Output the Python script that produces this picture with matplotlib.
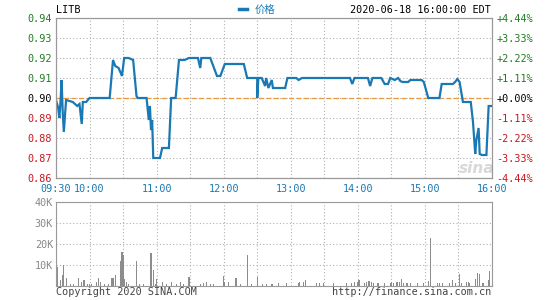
import matplotlib
matplotlib.use("Agg")
import matplotlib.pyplot as plt

# price line, minutes after 09:30
price_min = [0, 2, 3, 4, 5, 6, 7, 9, 15, 19, 21, 23, 24, 27, 30, 48, 51, 53, 56, 59,
             61, 65, 69, 72, 73, 81, 83, 84, 85, 86, 87, 93, 95, 101, 103, 107, 110, 115,
             119, 127, 129, 130, 138, 144, 147, 151, 168, 171, 180, 180, 181, 184, 187,
             188, 190, 193, 194, 205, 207, 215, 217, 220, 263, 265, 267, 279, 281, 283,
             291, 294, 297, 299, 303, 306, 308, 310, 315, 317, 327, 329, 333, 343, 345,
             352, 355, 357, 359, 361, 364, 371, 373, 375, 376, 378, 379, 381, 385, 387, 390]
price = [0.899, 0.895, 0.890, 0.898, 0.909, 0.893, 0.883, 0.899, 0.898, 0.896, 0.897,
         0.887, 0.898, 0.898, 0.900, 0.900, 0.919, 0.916, 0.915, 0.911, 0.920, 0.920,
         0.919, 0.901, 0.900, 0.900, 0.889, 0.896, 0.884, 0.889, 0.870, 0.870, 0.875,
         0.875, 0.900, 0.900, 0.919, 0.919, 0.920, 0.920, 0.915, 0.920, 0.920, 0.911,
         0.911, 0.917, 0.917, 0.910, 0.910, 0.900, 0.910, 0.910, 0.906, 0.910, 0.905,
         0.909, 0.905, 0.905, 0.910, 0.910, 0.909, 0.910, 0.910, 0.907, 0.910, 0.910,
         0.906, 0.910, 0.910, 0.907, 0.907, 0.910, 0.909, 0.910, 0.9085, 0.908, 0.908,
         0.909, 0.909, 0.908, 0.900, 0.900, 0.907, 0.907, 0.907, 0.908, 0.9095, 0.908,
         0.898, 0.898, 0.888, 0.872, 0.879, 0.885, 0.872, 0.8715, 0.8715, 0.896, 0.896]

# volume bars
vol_min = [1, 4, 6, 7, 9, 13, 16, 20, 23, 25, 28, 30, 32, 36, 38, 40, 43, 47, 50, 51,
           53, 58, 59, 60, 61, 63, 65, 72, 75, 78, 85, 87, 89, 90, 95, 99, 103, 108, 111,
           114, 119, 129, 132, 135, 138, 141, 150, 151, 154, 161, 165, 171, 175, 180, 185,
           188, 193, 194, 199, 206, 217, 218, 221, 223, 233, 236, 239, 248, 260, 264, 267,
           270, 271, 276, 278, 280, 282, 284, 288, 294, 299, 300, 302, 305, 307, 309, 311,
           314, 317, 323, 329, 333, 335, 341, 343, 346, 352, 355, 357, 361, 363, 367, 369,
           370, 375, 377, 379, 382, 387, 388]
vol_k = [9.0, 2.7, 5.0, 10.0, 3.8, 1.0, 1.0, 3.8, 2.0, 2.7, 1.0, 1.0, 1.0, 2.0, 3.8, 2.0,
         1.0, 1.0, 3.8, 3.8, 5.0, 12.0, 16.0, 14.6, 3.0, 2.0, 1.0, 12.0, 1.0, 1.0, 15.7,
         7.5, 1.0, 3.2, 2.0, 1.0, 2.0, 1.0, 2.0, 1.0, 4.3, 1.0, 1.4, 2.0, 1.0, 1.0, 4.6,
         2.0, 2.0, 3.8, 1.0, 14.6, 1.0, 4.0, 1.0, 1.0, 1.0, 0.8, 1.4, 1.1, 1.4, 1.9, 1.9,
         2.7, 1.1, 1.1, 1.1, 1.1, 1.1, 1.4, 1.9, 1.9, 2.7, 1.1, 1.9, 2.2, 1.9, 1.1, 1.1,
         1.1, 1.4, 1.9, 1.1, 1.9, 1.9, 3.2, 1.1, 1.1, 1.1, 1.1, 1.1, 2.2, 22.9, 1.1, 1.1,
         1.1, 1.1, 2.7, 1.1, 5.4, 1.1, 1.9, 1.9, 1.1, 3.0, 5.9, 5.4, 1.1, 2.7, 7.1]

prev_close = 0.90
price_ticks = [0.86, 0.87, 0.88, 0.89, 0.90, 0.91, 0.92, 0.93, 0.94]
pct_labels = ["-4.44%", "-3.33%", "-2.22%", "-1.11%", "+0.00%",
              "+1.11%", "+2.22%", "+3.33%", "+4.44%"]
time_ticks = [0, 30, 90, 150, 210, 270, 330, 390]
time_labels = ["09:30", "10:00", "11:00", "12:00", "13:00", "14:00", "15:00", "16:00"]
vol_ticks = [10, 20, 30, 40]
vol_labels = ["10K", "20K", "30K", "40K"]

GREEN = "#217a21"
RED = "#c8141e"
BLUE = "#1a78b4"
FRAME = "#999999"
mono = "DejaVu Sans Mono"
FS = 7.3

fig = plt.figure(figsize=(5.45, 3.0), dpi=100)
ax = fig.add_axes([56 / 545, 1 - 178 / 300, 436 / 545, 160 / 300])
axv = fig.add_axes([56 / 545, 1 - 285.7 / 300, 436 / 545, 84 / 300])


def tick_color(p):
    if abs(p - prev_close) < 1e-9:
        return "black"
    return GREEN if p > prev_close else RED


# price panel
ax.plot(price_min, price, color=BLUE, lw=1.6, solid_joinstyle="miter", zorder=3)
ax.axhline(prev_close, color="#e89a3c", lw=0.9, ls=(0, (4, 2)), zorder=2)
ax.set_xlim(0, 390)
ax.set_ylim(0.86, 0.94)
ax.set_yticks(price_ticks)
ax.set_yticklabels(["%.2f" % p for p in price_ticks], fontfamily=mono, fontsize=FS)
for lab, p in zip(ax.get_yticklabels(), price_ticks):
    lab.set_color(tick_color(p))
ax.set_xticks(range(0, 391, 30))
ax.tick_params(axis="x", length=0, labelbottom=False)
ax.tick_params(axis="y", length=0, pad=3)
ax.grid(True, color="#b0b0b0", ls=(0, (1, 2)), lw=0.8)

axr = ax.twinx()
axr.set_ylim(0.86, 0.94)
axr.set_yticks(price_ticks)
axr.set_yticklabels(pct_labels, fontfamily=mono, fontsize=FS)
for lab, p in zip(axr.get_yticklabels(), price_ticks):
    lab.set_color(tick_color(p))
axr.tick_params(axis="y", length=0, pad=3)

for a in (ax, axr):
    for s in a.spines.values():
        s.set_color(FRAME)

# time labels between panels
for t, lab in zip(time_ticks, time_labels):
    ax.text(t, -0.066, lab, transform=ax.get_xaxis_transform(), ha="center", va="center",
            fontfamily=mono, fontsize=FS, color=BLUE)

# header
fig.text(56 / 545, 1 - 10 / 300, "LITB", fontfamily=mono, fontsize=FS, va="center", ha="left")
fig.add_artist(plt.Line2D([239 / 545, 247 / 545], [1 - 9 / 300, 1 - 9 / 300],
                          color=BLUE, lw=2.5, transform=fig.transFigure))
fig.text(255 / 545, 1 - 10 / 300, "价格", fontfamily=["Noto Sans CJK SC", "DejaVu Sans"],
         fontsize=7.5, va="center", ha="left", color=BLUE)
fig.text(491 / 545, 1 - 10 / 300, "2020-06-18 16:00:00 EDT", fontfamily=mono, fontsize=FS,
         va="center", ha="right")

# watermark
ax.text(0.965, 0.06, "sina", transform=ax.transAxes, ha="center", va="center",
        fontsize=11, fontweight="bold", style="italic", color="#d8d8d8", zorder=1)

# volume panel
axv.bar(vol_min, vol_k, width=1.0, color="#8c8c8c", zorder=3)
axv.set_xlim(0, 390)
axv.set_ylim(0, 40)
axv.set_yticks(vol_ticks)
axv.set_yticklabels(vol_labels, fontfamily=mono, fontsize=FS, color="#888888")
axv.set_xticks(range(0, 391, 30))
axv.tick_params(axis="x", length=0, labelbottom=False)
axv.tick_params(axis="y", length=0, pad=2)
axv.grid(True, color="#b0b0b0", ls=(0, (1, 2)), lw=0.8)
for s in axv.spines.values():
    s.set_color(FRAME)

fig.text(56 / 545, 1 - 292 / 300, "Copyright 2020 SINA.COM", fontfamily=mono, fontsize=FS,
         va="center", ha="left", color="#444444")
fig.text(491 / 545, 1 - 292 / 300, "http://finance.sina.com.cn", fontfamily=mono,
         fontsize=FS, va="center", ha="right", color="#444444")

fig.savefig("out.png", dpi=100)
